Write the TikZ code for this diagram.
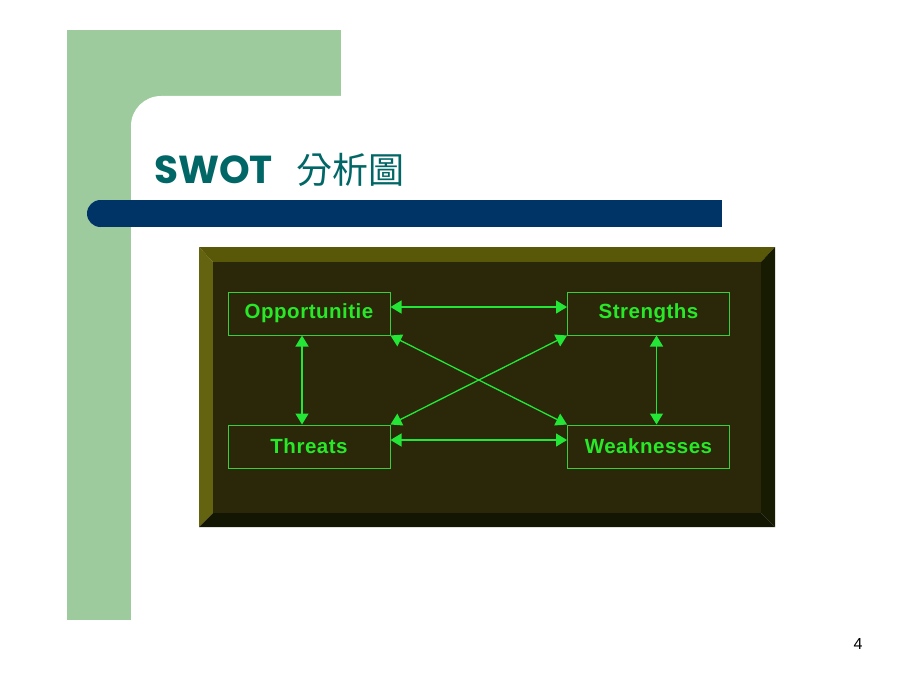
\documentclass[tikz,border=0pt]{standalone}
\usepackage{fontspec}
\setmainfont{Liberation Sans}
\newfontfamily\titlefont{Poppins}
\newfontfamily\cjkfont{Noto Sans CJK TC}
\newfontfamily\boxfont{Liberation Sans}[LetterSpace=2.5]
\usetikzlibrary{arrows.meta}
\definecolor{lgreen}{RGB}{157,203,157}
\definecolor{navybar}{RGB}{0,51,102}
\definecolor{tealtitle}{RGB}{0,102,102}
\definecolor{face}{RGB}{42,40,8}
\definecolor{bevtop}{RGB}{88,88,8}
\definecolor{bevleft}{RGB}{100,100,16}
\definecolor{bevright}{RGB}{22,27,2}
\definecolor{bevbot}{RGB}{18,22,2}
\definecolor{boxline}{RGB}{60,205,60}
\definecolor{arrowgreen}{RGB}{35,230,55}
\definecolor{textgreen}{RGB}{40,232,40}
\tikzset{
  swotbox/.style={draw=boxline, line width=1pt, minimum width=162pt, minimum height=43pt,
    inner sep=0pt, font=\boxfont\fontsize{20.5}{20.5}\selectfont\bfseries, text=textgreen},
  biarrow/.style={draw=arrowgreen, line width=1.3pt,
    {Triangle[length=11pt,width=13pt]}-{Triangle[length=11pt,width=13pt]}, fill=arrowgreen},
}
\begin{document}
\begin{tikzpicture}[x=1pt,y=-1pt]
\fill[white] (0,0) rectangle (920,690);
\useasboundingbox (0,0) rectangle (920,690);
% green L-shape
\fill[lgreen] (67,30) rectangle (341,620);
\fill[white, rounded corners=30pt] (131,96) rectangle (960,720);
% blue bar
\fill[navybar] (100.5,200) rectangle (722,227);
\fill[navybar] (100.5,213.5) circle[radius=13.5pt];
% title
\node[anchor=base west, inner sep=0pt, text=tealtitle] (title) at (154,183)
  {\titlefont\bfseries\fontsize{39}{39}\selectfont SWOT\hspace{0.6em}{\cjkfont\mdseries\fontsize{36}{36}\selectfont 分析圖}};
% panel
\fill[bevtop] (199,247) -- (775,247) -- (761,262) -- (213,262) -- cycle;
\fill[bevleft] (199,247) -- (213,262) -- (213,513) -- (199,527) -- cycle;
\fill[bevright] (775,247) -- (775,527) -- (761,513) -- (761,262) -- cycle;
\fill[bevbot] (199,527) -- (775,527) -- (761,513) -- (213,513) -- cycle;
\fill[face] (213,262) rectangle (761,513);
% boxes
\node[swotbox] (opp) at (309,313.5) {Opportunitie};
\node[swotbox] (str) at (648.5,313.5) {Strengths};
\node[swotbox] (thr) at (309,446.5) {Threats};
\node[swotbox] (wea) at (648.5,446.5) {Weaknesses};
% arrows
\draw[biarrow] ([yshift=6.5pt]opp.east) -- ([yshift=6.5pt]str.west);
\draw[biarrow] ([yshift=6.5pt]thr.east) -- ([yshift=6.5pt]wea.west);
\draw[biarrow] ([xshift=-7pt]opp.south) -- ([xshift=-7pt]thr.north);
\draw[biarrow] ([xshift=8pt]str.south) -- ([xshift=8pt]wea.north);
\draw[biarrow] (opp.south east) -- (wea.north west);
\draw[biarrow] (str.south west) -- (thr.north east);
% page number
\node[anchor=base, inner sep=0pt, font=\fontsize{16}{16}\selectfont] (pnum) at (858,649) {4};
\end{tikzpicture}
\end{document}
